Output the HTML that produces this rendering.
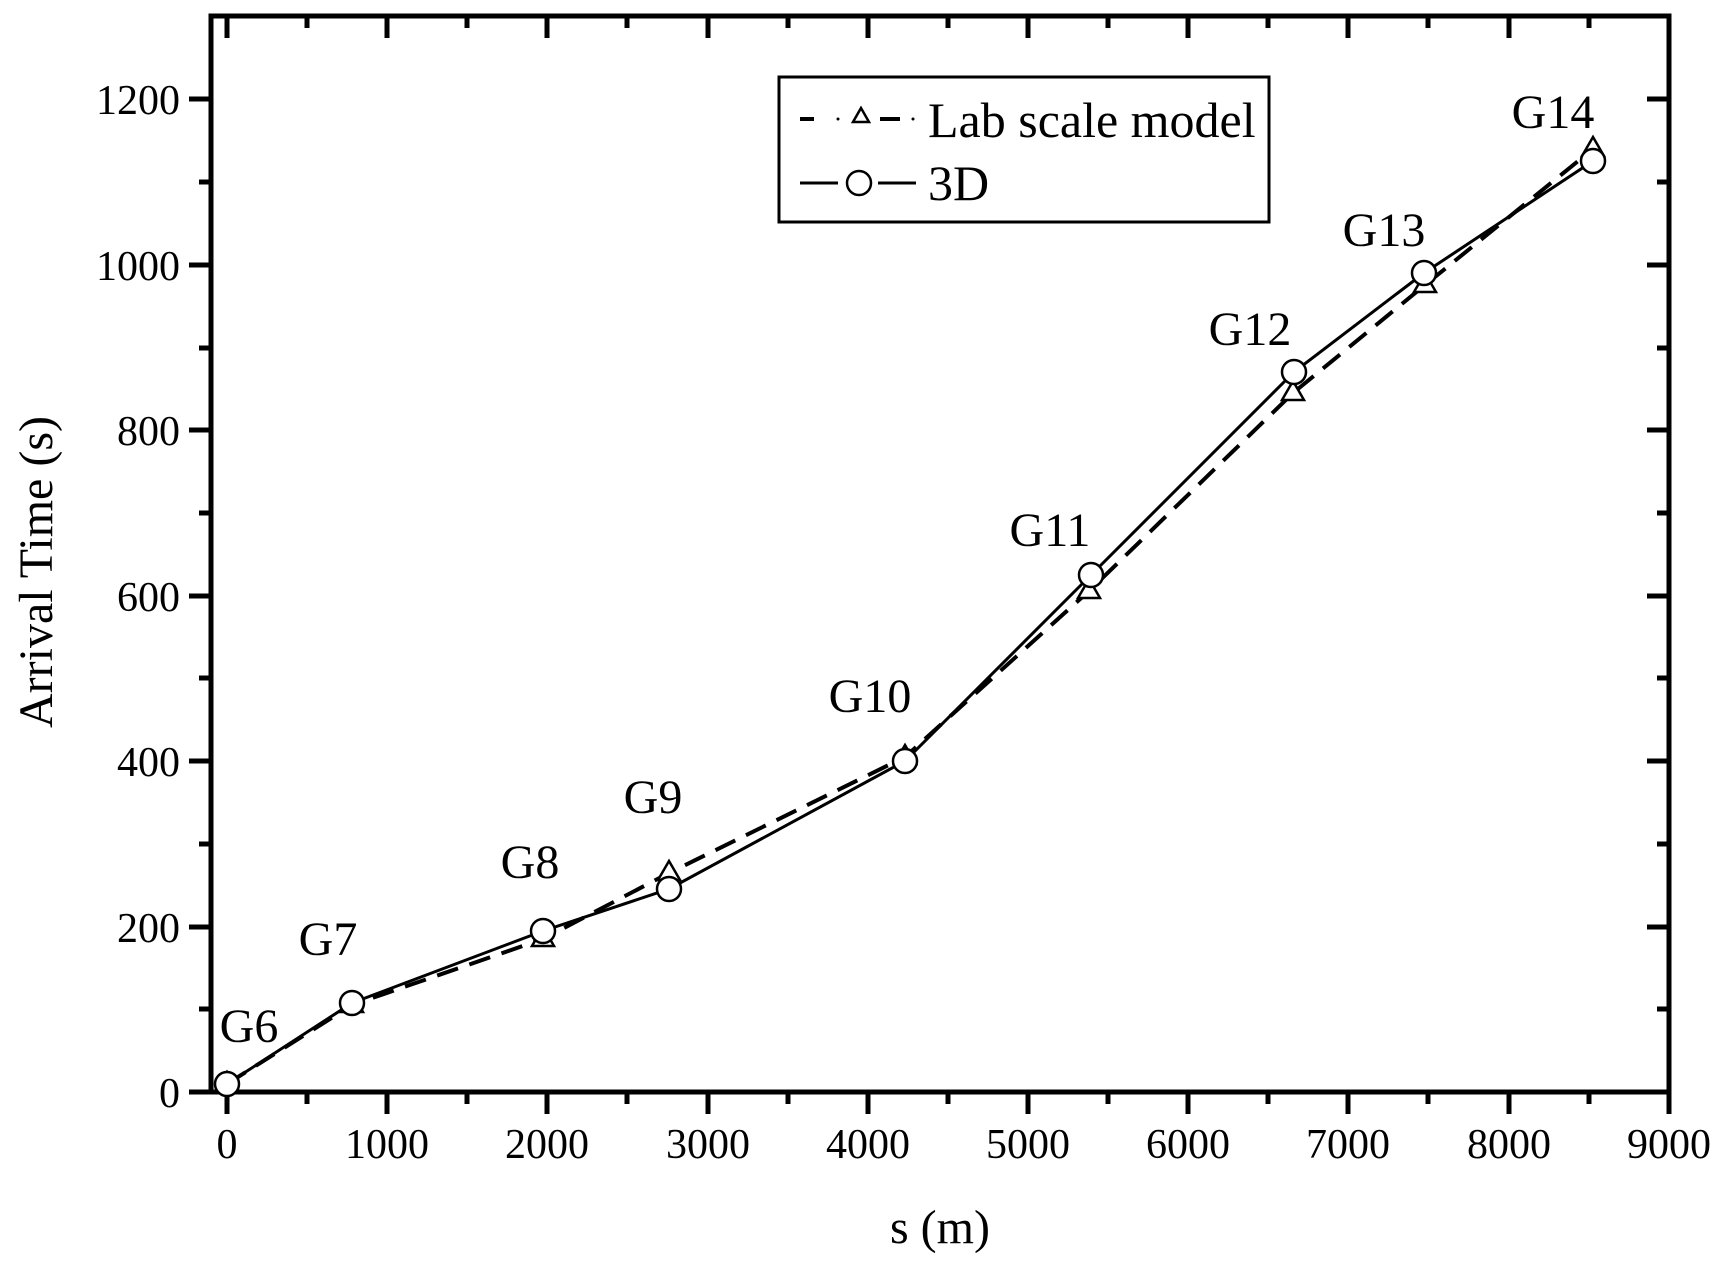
<!DOCTYPE html>
<html><head><meta charset="utf-8"><style>body{margin:0;background:#fff}</style></head>
<body>
<svg width="1726" height="1275" xmlns="http://www.w3.org/2000/svg" font-family="Liberation Serif, serif">
<rect width="1726" height="1275" fill="#fff"/>
<g stroke="#000" stroke-width="5" fill="none">
<rect x="211" y="16" width="1458" height="1076"/>
</g>
<g id="ticks" stroke="#000" stroke-width="5">
<path d="M227 1092v22M387 1092v22M547 1092v22M708 1092v22M868 1092v22M1028 1092v22M1188 1092v22M1348 1092v22M1509 1092v22M1669 1092v22"/>
<path d="M307 1092v12M467 1092v12M627 1092v12M788 1092v12M948 1092v12M1108 1092v12M1268 1092v12M1428 1092v12M1589 1092v12"/>
<path d="M227 16v22M387 16v22M547 16v22M708 16v22M868 16v22M1028 16v22M1188 16v22M1348 16v22M1509 16v22"/>
<path d="M307 16v12M467 16v12M627 16v12M788 16v12M948 16v12M1108 16v12M1268 16v12M1428 16v12M1589 16v12"/>
<path d="M211 1092h-22M211 927h-22M211 761h-22M211 596h-22M211 430h-22M211 265h-22M211 99h-22"/>
<path d="M211 1009h-12M211 844h-12M211 678h-12M211 513h-12M211 348h-12M211 182h-12"/>
<path d="M1669 927h-22M1669 761h-22M1669 596h-22M1669 430h-22M1669 265h-22M1669 99h-22"/>
<path d="M1669 1009h-12M1669 844h-12M1669 678h-12M1669 513h-12M1669 348h-12M1669 182h-12"/>
</g>
<g font-size="42" text-anchor="middle">
<text x="227" y="1158">0</text><text x="387" y="1158">1000</text><text x="547" y="1158">2000</text><text x="708" y="1158">3000</text><text x="868" y="1158">4000</text><text x="1028" y="1158">5000</text><text x="1188" y="1158">6000</text><text x="1348" y="1158">7000</text><text x="1509" y="1158">8000</text><text x="1669" y="1158">9000</text>
</g>
<g font-size="42" text-anchor="end">
<text x="180" y="1107">0</text><text x="180" y="942">200</text><text x="180" y="776">400</text><text x="180" y="611">600</text><text x="180" y="445">800</text><text x="180" y="280">1000</text><text x="180" y="114">1200</text>
</g>
<text x="940" y="1243" font-size="48" text-anchor="middle">s (m)</text>
<text transform="translate(52,572) rotate(-90)" font-size="48" text-anchor="middle">Arrival Time (s)</text>
<polyline fill="none" stroke="#000" stroke-width="4" stroke-dasharray="22,12" points="227,1084 352,1005 543,939 669,873 905,757 1089,591 1293,393 1425,285 1593,149"/>
<polyline fill="none" stroke="#000" stroke-width="3" points="227,1084 352,1003 543,931 669,889 905,761 1091,575 1294,372 1424,273 1593,161"/>
<g fill="#fff" stroke="#000" stroke-width="2.5">
<path d="M227,1072 l-11,19 h22z"/><path d="M352,993 l-11,19 h22z"/><path d="M543,927 l-11,19 h22z"/><path d="M669,861 l-11,19 h22z"/><path d="M905,745 l-11,19 h22z"/><path d="M1089,579 l-11,19 h22z"/><path d="M1293,381 l-11,19 h22z"/><path d="M1425,273 l-11,19 h22z"/><path d="M1593,137 l-11,19 h22z"/>
<circle cx="227" cy="1084" r="12"/><circle cx="352" cy="1003" r="12"/><circle cx="543" cy="931" r="12"/><circle cx="669" cy="889" r="12"/><circle cx="905" cy="761" r="12"/><circle cx="1091" cy="575" r="12"/><circle cx="1294" cy="372" r="12"/><circle cx="1424" cy="273" r="12"/><circle cx="1593" cy="161" r="12"/>
</g>
<g font-size="48" text-anchor="middle">
<text x="249" y="1042">G6</text><text x="328" y="955">G7</text><text x="530" y="878">G8</text><text x="653" y="813">G9</text><text x="870" y="712">G10</text><text x="1050" y="546">G11</text><text x="1250" y="345">G12</text><text x="1384" y="246">G13</text><text x="1553" y="128">G14</text>
</g>
<rect x="779" y="77" width="490" height="145" fill="#fff" stroke="#000" stroke-width="3"/>
<path d="M800 119h14M880 119h20" stroke="#000" stroke-width="4"/>
<circle cx="838" cy="119" r="1.5"/><circle cx="913" cy="119" r="1.5"/>
<path d="M861,108 l-8,14 h16 z" fill="#fff" stroke="#000" stroke-width="2.5"/>
<path d="M800 183h38M878 183h38" stroke="#000" stroke-width="3"/>
<circle cx="859" cy="183" r="12" fill="#fff" stroke="#000" stroke-width="2.5"/>
<text x="928" y="137" font-size="50">Lab scale model</text>
<text x="928" y="200" font-size="50">3D</text>
</svg>
</body></html>
